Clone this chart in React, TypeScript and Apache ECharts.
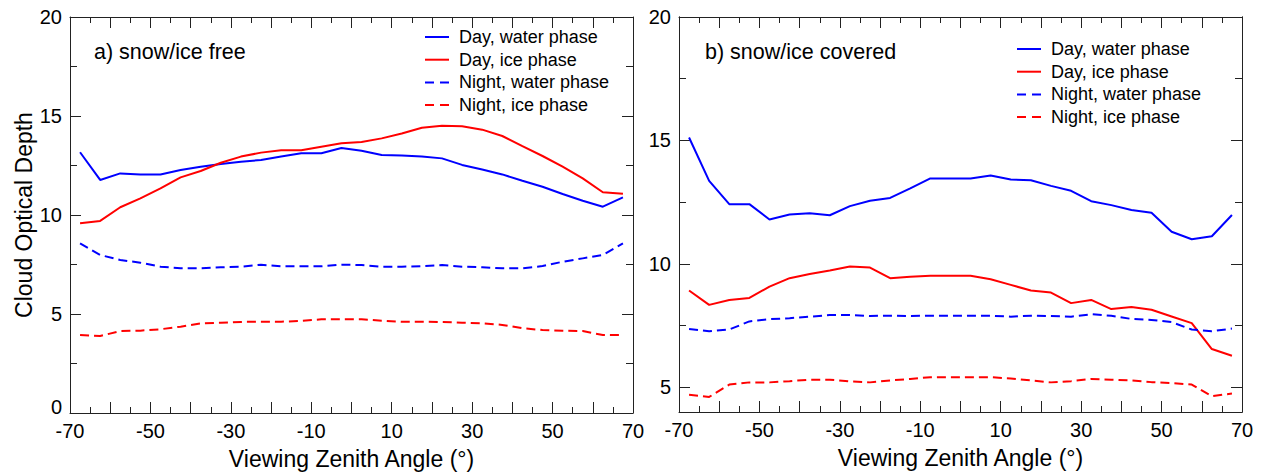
import React, { useEffect, useRef } from "react";
import * as echarts from "echarts";

// Viewing zenith angle bin centres (degrees)
const angles = [
  -67.5, -62.5, -57.5, -52.5, -47.5, -42.5, -37.5, -32.5, -27.5, -22.5, -17.5, -12.5, -7.5, -2.5,
  2.5, 7.5, 12.5, 17.5, 22.5, 27.5, 32.5, 37.5, 42.5, 47.5, 52.5, 57.5, 62.5, 67.5,
];

// Panel a) snow/ice free
const dayWaterA = [
  13.17, 11.77, 12.1, 12.05, 12.05, 12.27, 12.44, 12.57, 12.69, 12.78, 12.95, 13.12, 13.12, 13.38,
  13.24, 13.03, 13.0, 12.95, 12.86, 12.53, 12.3, 12.05, 11.73, 11.43, 11.06, 10.72, 10.42, 10.89,
];
const dayIceA = [
  9.58, 9.7, 10.39, 10.84, 11.35, 11.9, 12.22, 12.64, 12.95, 13.15, 13.27, 13.27, 13.45, 13.62,
  13.69, 13.87, 14.12, 14.41, 14.51, 14.48, 14.31, 13.99, 13.48, 12.98, 12.44, 11.85, 11.15, 11.07,
];
const nightWaterA = [
  8.57, 7.98, 7.73, 7.59, 7.39, 7.31, 7.31, 7.36, 7.39, 7.49, 7.41, 7.41, 7.41, 7.49,
  7.47, 7.39, 7.39, 7.42, 7.47, 7.39, 7.36, 7.31, 7.31, 7.42, 7.64, 7.81, 7.98, 8.57,
];
const nightIceA = [
  3.94, 3.89, 4.14, 4.16, 4.23, 4.36, 4.53, 4.56, 4.6, 4.61, 4.61, 4.65, 4.73, 4.73,
  4.73, 4.66, 4.61, 4.61, 4.6, 4.56, 4.53, 4.45, 4.28, 4.19, 4.16, 4.14, 3.94, 3.94,
];

// Panel b) snow/ice covered
const dayWaterB = [
  15.12, 13.36, 12.42, 12.42, 11.8, 12.0, 12.05, 11.97, 12.34, 12.56, 12.67, 13.06, 13.46, 13.46,
  13.46, 13.58, 13.42, 13.39, 13.16, 12.96, 12.54, 12.38, 12.18, 12.07, 11.3, 11.0, 11.12, 11.98,
];
const dayIceB = [
  8.92, 8.34, 8.54, 8.62, 9.08, 9.42, 9.59, 9.73, 9.89, 9.85, 9.42, 9.48, 9.52, 9.52,
  9.52, 9.38, 9.15, 8.92, 8.84, 8.41, 8.54, 8.17, 8.25, 8.14, 7.87, 7.6, 6.55, 6.28,
];
const nightWaterB = [
  7.36, 7.27, 7.34, 7.67, 7.76, 7.8, 7.86, 7.93, 7.93, 7.89, 7.9, 7.89, 7.9, 7.9,
  7.9, 7.9, 7.86, 7.9, 7.89, 7.86, 7.96, 7.9, 7.77, 7.73, 7.64, 7.34, 7.27, 7.38,
];
const nightIceB = [
  4.7, 4.61, 5.11, 5.2, 5.2, 5.25, 5.31, 5.31, 5.24, 5.2, 5.28, 5.34, 5.41, 5.41,
  5.41, 5.41, 5.36, 5.28, 5.2, 5.25, 5.34, 5.31, 5.28, 5.21, 5.17, 5.11, 4.64, 4.75,
];

const seriesNames = ["Day, water phase", "Day, ice phase", "Night, water phase", "Night, ice phase"];
const panelTitles = ["a) snow/ice free", "b) snow/ice covered"];
const xTickLabels = [-70, -50, -30, -10, 10, 30, 50, 70];
const rightYMajor = [5, 10, 15, 20];
const rightYMinor = [7.5, 12.5, 17.5];

const FONT = "'Liberation Sans', Arial, Helvetica, sans-serif";
const AX = "#222";
const BLUE = "#0000ff";
const RED = "#ff0000";
const DASH = [9, 5];
const SOLID_ICON = "path://M0,0h24v2h-24z";
const DASH_ICON = "path://M0,0h9v2h-9zM15,0h9v2h-9z";

const pairs = (ys: number[]) => angles.map((a, i) => [a, ys[i]]);

function makeXAxes(gridIndex: number) {
  const base: any = {
    type: "value",
    gridIndex,
    min: -70,
    max: 70,
    interval: 10,
    splitLine: { show: false },
    axisLine: { show: true, onZero: false, lineStyle: { color: AX, width: 1 } },
    axisTick: { show: true, inside: true, length: 11, lineStyle: { color: AX, width: 1 } },
    minorTick: { show: true, splitNumber: 2, length: 6, lineStyle: { color: AX, width: 1 } },
    minorSplitLine: { show: false },
  };
  return [
    {
      ...base,
      position: "bottom",
      axisLabel: {
        show: true,
        color: "#000",
        fontSize: 20,
        fontFamily: FONT,
        margin: 8,
        formatter: (v: number) => (xTickLabels.includes(v) ? String(v) : ""),
      },
      name: "Viewing Zenith Angle (°)",
      nameLocation: "middle",
      nameGap: 34,
      nameTextStyle: { color: "#000", fontSize: 23, fontFamily: FONT },
    },
    { ...base, position: "top", axisLabel: { show: false } },
  ];
}

const yLineBase: any = {
  type: "value",
  splitLine: { show: false },
  axisLine: { show: true, onZero: false, lineStyle: { color: AX, width: 1 } },
};

const yAxes: any[] = [
  // left grid (0..20)
  {
    ...yLineBase,
    gridIndex: 0,
    position: "left",
    min: 0,
    max: 20,
    interval: 5,
    axisTick: { show: true, inside: true, length: 11, lineStyle: { color: AX } },
    minorTick: { show: true, splitNumber: 2, length: 7, lineStyle: { color: AX } },
    axisLabel: {
      color: "#000",
      fontSize: 20,
      fontFamily: FONT,
      margin: 8,
      formatter: (v: number) => (v === 0 ? "{z|0}" : String(v)),
      rich: { z: { color: "#000", fontSize: 20, fontFamily: FONT, padding: [0, 0, 12, 0] } },
    },
    name: "Cloud Optical Depth",
    nameLocation: "middle",
    nameGap: 35,
    nameTextStyle: { color: "#000", fontSize: 23, fontFamily: FONT },
  },
  {
    ...yLineBase,
    gridIndex: 0,
    position: "right",
    min: 0,
    max: 20,
    interval: 5,
    axisTick: { show: true, inside: true, length: 11, lineStyle: { color: AX } },
    minorTick: { show: true, splitNumber: 2, length: 7, lineStyle: { color: AX } },
    axisLabel: { show: false },
  },
  // right grid (4..20)
  {
    ...yLineBase,
    gridIndex: 1,
    position: "left",
    min: 4,
    max: 20,
    axisTick: { show: true, inside: true, length: 11, customValues: rightYMajor, lineStyle: { color: AX } },
    axisLabel: { color: "#000", fontSize: 20, fontFamily: FONT, margin: 8, customValues: rightYMajor },
  },
  {
    ...yLineBase,
    gridIndex: 1,
    position: "left",
    min: 4,
    max: 20,
    axisTick: { show: true, inside: true, length: 7, customValues: rightYMinor, lineStyle: { color: AX } },
    axisLabel: { show: false },
  },
  {
    ...yLineBase,
    gridIndex: 1,
    position: "right",
    min: 4,
    max: 20,
    axisTick: { show: true, inside: true, length: 11, customValues: rightYMajor, lineStyle: { color: AX } },
    axisLabel: { show: false },
  },
  {
    ...yLineBase,
    gridIndex: 1,
    position: "right",
    min: 4,
    max: 20,
    axisTick: { show: true, inside: true, length: 7, customValues: rightYMinor, lineStyle: { color: AX } },
    axisLabel: { show: false },
  },
];

const styles = [
  { color: BLUE, type: "solid" as any, icon: SOLID_ICON },
  { color: RED, type: "solid" as any, icon: SOLID_ICON },
  { color: BLUE, type: DASH as any, icon: DASH_ICON },
  { color: RED, type: DASH as any, icon: DASH_ICON },
];

function makeSeries(xAxisIndex: number, yAxisIndex: number, sets: number[][]) {
  return sets.map((ys, i) => ({
    type: "line",
    name: seriesNames[i],
    xAxisIndex,
    yAxisIndex,
    data: pairs(ys),
    symbol: "none",
    color: styles[i].color,
    lineStyle: { color: styles[i].color, width: 2, type: styles[i].type },
  }));
}

const legendBase: any = {
  data: seriesNames.map((name, i) => ({ name, icon: styles[i].icon })),
  orient: "vertical",
  itemWidth: 24,
  itemHeight: 10,
  itemGap: 4.7,
  padding: 0,
  selectedMode: false,
  itemStyle: { borderWidth: 0 },
  textStyle: { color: "#000", fontSize: 18, lineHeight: 18, fontFamily: FONT, padding: [0, 0, 0, 5] },
};

const option: any = {
  animation: false,
  backgroundColor: "#fff",
  title: [
    {
      text: panelTitles[0],
      left: 94,
      top: 41,
      padding: 0,
      textStyle: { color: "#000", fontSize: 21.5, fontWeight: "normal", fontFamily: FONT },
    },
    {
      text: panelTitles[1],
      left: 705,
      top: 41,
      padding: 0,
      textStyle: { color: "#000", fontSize: 21.5, fontWeight: "normal", fontFamily: FONT },
    },
  ],
  legend: [
    { ...legendBase, left: 425, top: 28 },
    { ...legendBase, left: 1017, top: 40 },
  ],
  grid: [
    { left: 70, top: 17, width: 563, height: 396 },
    { left: 679, top: 17, width: 563, height: 395 },
  ],
  xAxis: [...makeXAxes(0), ...makeXAxes(1)],
  yAxis: yAxes,
  series: [
    ...makeSeries(0, 0, [dayWaterA, dayIceA, nightWaterA, nightIceA]),
    ...makeSeries(2, 2, [dayWaterB, dayIceB, nightWaterB, nightIceB]),
  ],
};

export default function App() {
  const ref = useRef<HTMLDivElement>(null);
  useEffect(() => {
    const chart = echarts.init(ref.current!, null, { renderer: "svg" });
    chart.setOption(option);
    return () => chart.dispose();
  }, []);
  return (
    <div
      ref={ref}
      style={{ position: "absolute", left: 0, top: 0, width: 1267, height: 476, background: "#fff" }}
    />
  );
}
